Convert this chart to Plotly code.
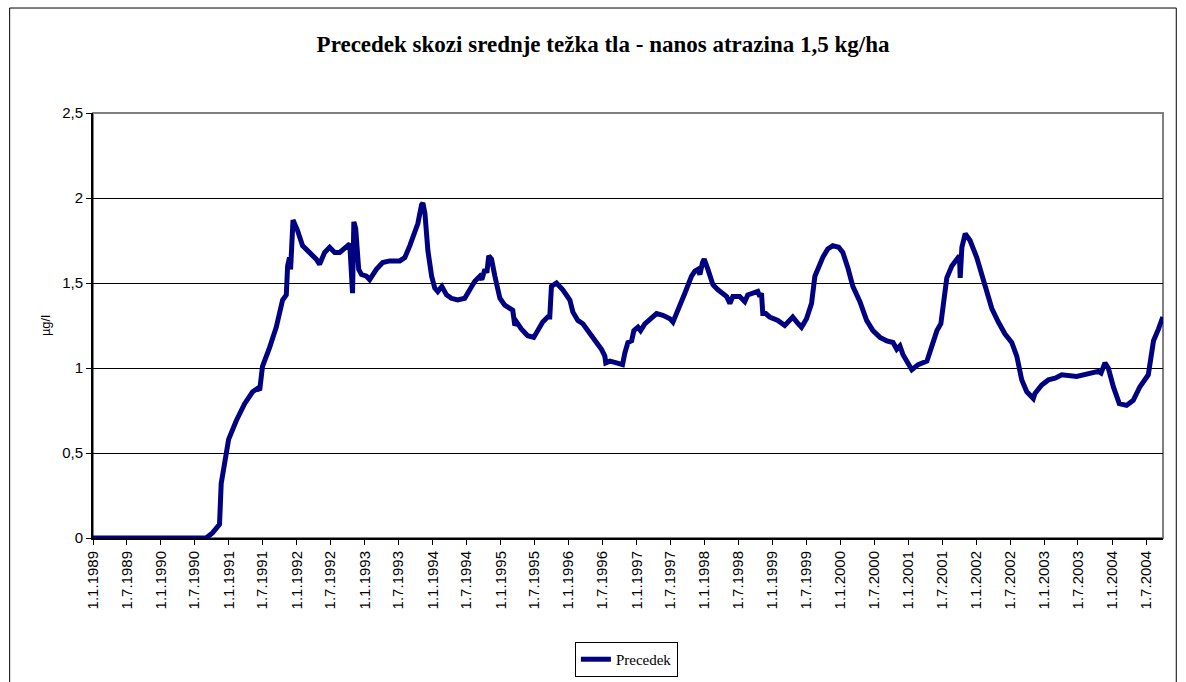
import plotly.graph_objects as go

# Leaching of atrazine through medium-heavy soil (application 1.5 kg/ha)
dates = [
    "1989-01-01", "1990-09-01", "1990-10-05", "1990-11-12", "1990-11-21", "1990-12-09",
    "1990-12-31", "1991-02-10", "1991-03-27", "1991-05-09", "1991-06-05", "1991-06-16",
    "1991-07-01", "1991-08-08", "1991-09-13", "1991-10-17", "1991-11-06", "1991-11-13",
    "1991-11-23", "1991-11-29", "1991-12-12", "1992-01-05", "1992-02-01", "1992-03-09",
    "1992-04-15", "1992-05-03", "1992-05-30", "1992-06-26", "1992-07-23", "1992-08-19",
    "1992-09-24", "1992-10-12", "1992-10-27", "1992-11-03", "1992-11-13", "1992-11-29",
    "1992-12-14", "1993-01-10", "1993-01-27", "1993-03-04", "1993-04-07", "1993-05-15",
    "1993-07-08", "1993-08-04", "1993-08-31", "1993-09-27", "1993-10-13", "1993-11-02",
    "1993-11-09", "1993-11-20", "1993-12-06", "1993-12-26", "1994-01-12", "1994-01-28",
    "1994-02-19", "1994-03-16", "1994-04-11", "1994-05-15", "1994-06-22", "1994-07-19",
    "1994-08-15", "1994-09-11", "1994-09-22", "1994-10-08", "1994-10-19", "1994-10-29",
    "1994-11-13", "1994-12-01", "1994-12-28", "1995-01-23", "1995-02-19", "1995-03-07",
    "1995-03-18", "1995-03-28", "1995-04-22", "1995-05-26", "1995-06-28", "1995-07-19",
    "1995-08-15", "1995-09-11", "1995-09-22", "1995-10-01", "1995-10-28", "1995-12-01",
    "1996-01-08", "1996-01-24", "1996-02-20", "1996-03-18", "1996-04-24", "1996-05-30",
    "1996-06-26", "1996-07-14", "1996-07-19", "1996-08-10", "1996-09-15", "1996-10-17",
    "1996-10-30", "1996-11-15", "1996-12-05", "1996-12-17", "1997-01-08", "1997-01-22",
    "1997-02-14", "1997-03-13", "1997-04-18", "1997-05-22", "1997-06-29", "1997-07-15",
    "1997-08-11", "1997-09-17", "1997-10-23", "1997-11-10", "1997-11-26", "1997-12-07",
    "1997-12-21", "1997-12-30", "1998-01-19", "1998-02-15", "1998-03-14", "1998-04-30",
    "1998-05-17", "1998-06-02", "1998-07-09", "1998-08-05", "1998-08-21", "1998-09-17",
    "1998-10-14", "1998-10-25", "1998-11-03", "1998-11-10", "1998-11-26", "1998-12-17",
    "1999-01-30", "1999-03-08", "1999-04-20", "1999-05-12", "1999-06-06", "1999-07-03",
    "1999-07-30", "1999-08-17", "1999-09-02", "1999-09-28", "1999-10-25", "1999-11-21",
    "1999-12-23", "2000-01-14", "2000-02-10", "2000-03-08", "2000-04-15", "2000-05-21",
    "2000-06-24", "2000-08-01", "2000-09-06", "2000-10-10", "2000-10-30", "2000-11-16",
    "2000-12-02", "2001-01-19", "2001-02-22", "2001-04-10", "2001-05-07", "2001-06-03",
    "2001-06-24", "2001-07-08", "2001-07-26", "2001-08-22", "2001-09-27", "2001-10-02",
    "2001-10-06", "2001-10-15", "2001-11-02", "2001-11-28", "2002-01-03", "2002-02-17",
    "2002-03-25", "2002-04-29", "2002-06-04", "2002-07-10", "2002-08-06", "2002-09-02",
    "2002-09-29", "2002-11-03", "2002-11-12", "2002-12-18", "2003-01-23", "2003-02-28",
    "2003-04-05", "2003-06-24", "2003-09-03", "2003-10-18", "2003-11-02", "2003-11-23",
    "2003-12-11", "2004-01-07", "2004-02-08", "2004-03-18", "2004-04-23", "2004-05-29",
    "2004-07-13", "2004-07-22", "2004-08-10", "2004-09-06", "2004-09-29",
]

precedek = [
    0.00, 0.00, 0.03, 0.08, 0.32, 0.44,
    0.58, 0.69, 0.79, 0.86, 0.88, 0.87,
    1.01, 1.12, 1.24, 1.40, 1.43, 1.60,
    1.65, 1.58, 1.87, 1.81, 1.72, 1.68,
    1.64, 1.61, 1.68, 1.71, 1.68, 1.68,
    1.72, 1.73, 1.44, 1.86, 1.82, 1.58,
    1.55, 1.54, 1.52, 1.58, 1.62, 1.63,
    1.63, 1.65, 1.72, 1.81, 1.85, 1.96,
    1.97, 1.91, 1.69, 1.54, 1.47, 1.45,
    1.48, 1.43, 1.41, 1.40, 1.41, 1.46,
    1.51, 1.54, 1.52, 1.58, 1.56, 1.66,
    1.64, 1.54, 1.41, 1.37, 1.35, 1.34,
    1.25, 1.27, 1.23, 1.19, 1.18, 1.22,
    1.27, 1.30, 1.30, 1.48, 1.50, 1.46,
    1.40, 1.33, 1.28, 1.26, 1.21, 1.15,
    1.11, 1.07, 1.03, 1.04, 1.03, 1.02,
    1.09, 1.15, 1.16, 1.22, 1.24, 1.22,
    1.26, 1.29, 1.32, 1.31, 1.29, 1.27,
    1.35, 1.44, 1.54, 1.57, 1.58, 1.55,
    1.62, 1.64, 1.58, 1.49, 1.46, 1.42,
    1.38, 1.42, 1.42, 1.39, 1.43, 1.44,
    1.45, 1.42, 1.44, 1.32, 1.32, 1.30,
    1.28, 1.25, 1.30, 1.27, 1.24, 1.29,
    1.38, 1.54, 1.59, 1.65, 1.70, 1.72,
    1.71, 1.68, 1.59, 1.48, 1.39, 1.28,
    1.22, 1.18, 1.16, 1.15, 1.11, 1.13,
    1.08, 0.99, 1.02, 1.04, 1.13, 1.22,
    1.26, 1.40, 1.53, 1.60, 1.65, 1.66,
    1.53, 1.71, 1.79, 1.75, 1.65, 1.47,
    1.35, 1.27, 1.20, 1.15, 1.07, 0.93,
    0.86, 0.82, 0.85, 0.90, 0.93, 0.94,
    0.96, 0.95, 0.97, 0.98, 0.97, 1.03,
    1.00, 0.89, 0.79, 0.78, 0.81, 0.89,
    0.96, 1.03, 1.16, 1.23, 1.30,
]

tick_dates = [f"{y}-{m:02d}-01" for y in range(1989, 2005) for m in (1, 7)]
tick_labels = [f"1.{m}.{y}" for y in range(1989, 2005) for m in (1, 7)]

y_ticks = [0, 0.5, 1, 1.5, 2, 2.5]
y_labels = ["0", "0,5", "1", "1,5", "2", "2,5"]

fig = go.Figure()
fig.add_trace(go.Scatter(
    x=dates, y=precedek, mode="lines", name="Precedek",
    line=dict(color="#000080", width=5),
))

fig.update_layout(
    width=1186, height=682,
    margin=dict(l=93, r=23, t=113, b=144, autoexpand=False),
    paper_bgcolor="white", plot_bgcolor="white",
    title=dict(
        text="<b>Precedek skozi srednje težka tla - nanos atrazina 1,5 kg/ha</b>",
        x=603 / 1186, xanchor="center", y=1 - 44 / 682, yanchor="middle",
        font=dict(family="Liberation Serif", size=23, color="black"),
    ),
    showlegend=True,
    legend=dict(
        orientation="h", x=0.4985, xanchor="center", y=-0.327, yanchor="bottom",
        bordercolor="black", borderwidth=1, bgcolor="white",
        font=dict(family="Liberation Serif", size=15, color="black"),
        tracegroupgap=0,
    ),
    xaxis=dict(
        type="date", range=["1989-01-01", "2004-09-30"], automargin=False,
        tickvals=tick_dates, ticktext=tick_labels, tickangle=-90,
        ticks="outside", ticklen=5, tickcolor="black",
        showline=True, linecolor="black", linewidth=2,
        showgrid=False, zeroline=False,
        tickfont=dict(family="Liberation Sans", size=15, color="black"),
    ),
    yaxis=dict(
        range=[0, 2.5], tickvals=y_ticks, ticktext=y_labels, automargin=False,
        ticks="outside", ticklen=5, tickcolor="black",
        showline=True, linecolor="black", linewidth=2,
        showgrid=True, gridcolor="black", gridwidth=1, zeroline=False,
        tickfont=dict(family="Liberation Sans", size=15, color="black"),
        title=dict(text="µg/l", standoff=9,
                   font=dict(family="Liberation Sans", size=13, color="black")),
    ),
    shapes=[
        # plot area frame (right edge shows in grey)
        dict(type="rect", xref="paper", yref="paper", x0=0, x1=1, y0=0, y1=1,
             line=dict(color="#808080", width=2), layer="below"),
        # chart area frame
        dict(type="rect", xref="paper", yref="paper",
             x0=-0.0779, x1=1.0124, y0=-0.40, y1=1.247,
             line=dict(color="black", width=1), layer="below"),
    ],
)

fig.write_html("out.html")
